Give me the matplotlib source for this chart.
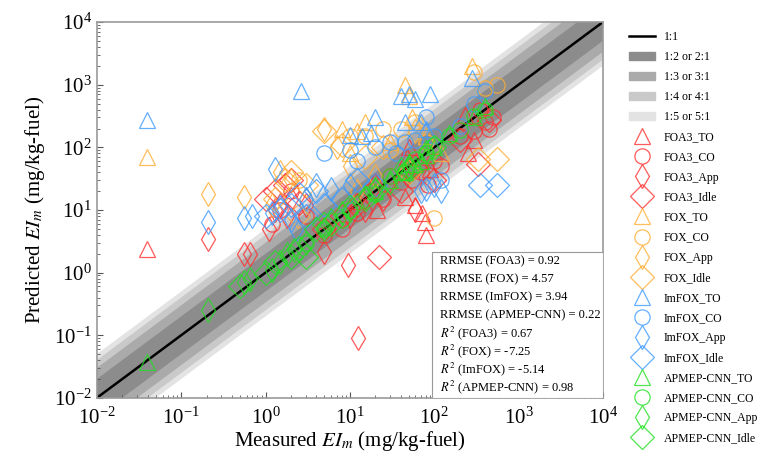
import numpy as np
import matplotlib.pyplot as plt
from matplotlib.patches import Patch, Rectangle
from matplotlib.lines import Line2D

plt.rcParams['font.family'] = ['Liberation Serif', 'DejaVu Serif']
plt.rcParams['mathtext.fontset'] = 'stix'

# (measured, predicted) pairs per model and flight mode
foa3_to = [(0.039, 2.4), (12, 14), (21, 10), (45, 16), (47, 70), (60, 12), (72, 9), (80, 4),
           (78, 6.5), (50, 100), (90, 45), (230, 330), (250, 80), (300, 130)]
foa3_co = [(12, 9), (18, 20), (25, 15), (30, 35), (40, 28), (55, 30), (70, 40), (85, 25), (100, 60),
           (120, 50), (200, 150), (300, 180), (400, 250), (500, 300), (350, 400), (8, 5), (5, 4),
           (1.5, 10), (2, 20), (3, 8), (1.2, 6), (450, 200)]
foa3_app = [(0.21, 3.5), (0.55, 2), (0.65, 2), (5, 2.1), (9.6, 1.3), (12.5, 0.09), (1.1, 5), (1.5, 12),
            (2, 15), (3, 12), (1.8, 8), (1.3, 10), (10, 8), (15, 10), (20, 25), (25, 15), (60, 10)]
foa3_idle = [(22, 1.8), (1, 15), (1.3, 20), (1.7, 25), (2.5, 13), (2, 30), (5, 5), (8, 8), (12, 12),
             (60, 50), (100, 30), (330, 55), (450, 270), (200, 130), (40, 20)]

fox_to = [(0.039, 69), (12, 180), (15, 250), (8, 200), (45, 1000), (50, 650), (280, 2000), (55, 300),
          (80, 150), (120, 80), (30, 120), (10, 80)]
fox_co = [(2.5, 30), (10, 150), (15, 150), (25, 200), (40, 200), (60, 250), (300, 1600), (400, 900),
          (550, 1000), (100, 7.5), (30, 90), (80, 120)]
fox_app = [(0.21, 18), (0.55, 16), (1.5, 40), (2, 30), (5, 200), (7, 100), (10, 50), (12, 20),
           (60, 180), (3, 15), (1.2, 12), (20, 35)]
fox_idle = [(1.3, 15), (2, 40), (3, 25), (5, 180), (15, 70), (330, 65), (550, 65), (1.7, 30),
            (8, 110), (25, 100), (50, 40), (2.4, 8)]

imfox_to = [(0.039, 270), (2.6, 800), (10, 160), (14, 150), (18, 170), (40, 650), (50, 700), (60, 600),
            (80, 200), (280, 1300), (70, 250), (45, 250), (90, 700), (20, 300)]
imfox_co = [(5, 80), (10, 90), (12, 60), (20, 100), (30, 120), (45, 120), (60, 130), (80, 300),
            (100, 150), (300, 500), (400, 800), (35, 80), (120, 30), (200, 220)]
imfox_app = [(0.21, 6.5), (0.55, 7.4), (0.7, 8), (1.2, 9), (1.5, 11), (2, 7), (3, 15), (4, 25), (6, 22),
             (10, 25), (70, 20), (80, 22), (100, 25), (120, 20), (1.3, 45), (2.3, 5)]
imfox_idle = [(1.5, 10), (2, 12), (2.5, 18), (3, 8), (5, 12), (8, 15), (12, 30), (20, 25), (350, 25),
              (550, 25), (1, 8), (4, 20)]

cnn_to = [(0.039, 0.037), (20, 20), (30, 30), (40, 40), (50, 55), (60, 55), (80, 75), (100, 100),
          (150, 170), (300, 300), (400, 450), (70, 60), (45, 40)]
cnn_co = [(10, 10), (20, 18), (30, 35), (45, 40), (60, 65), (80, 80), (100, 110), (150, 150),
          (200, 190), (300, 320), (400, 400), (8, 7), (5, 5), (3, 3)]
cnn_app = [(0.21, 0.25), (0.55, 0.7), (0.65, 0.8), (1.2, 1.1), (1.5, 1.5), (1.8, 2), (2.2, 2.3), (3, 3),
           (5, 5), (6, 7), (8, 9), (10, 10), (15, 16), (20, 22), (30, 28), (40, 45), (50, 50), (80, 85)]
cnn_idle = [(1, 1), (1.3, 1.5), (2, 1.8), (2.5, 2.5), (3, 1.8), (4, 5), (5, 6), (6, 6), (10, 11),
            (15, 15), (20, 20), (50, 45), (100, 100), (0.5, 0.6)]

models = ['FOA3', 'FOX', 'ImFOX', 'APMEP-CNN']
modes = ['TO', 'CO', 'App', 'Idle']
data = {
    'FOA3': [foa3_to, foa3_co, foa3_app, foa3_idle],
    'FOX': [fox_to, fox_co, fox_app, fox_idle],
    'ImFOX': [imfox_to, imfox_co, imfox_app, imfox_idle],
    'APMEP-CNN': [cnn_to, cnn_co, cnn_app, cnn_idle],
}
colors = {'FOA3': '#ff3030', 'FOX': '#ffad33', 'ImFOX': '#3d9bff', 'APMEP-CNN': '#22e022'}
markers = {'TO': ('^', 11), 'CO': ('o', 11), 'App': ('d', 12), 'Idle': ('D', 12)}

ratios = [5, 4, 3, 2]
band_colors = ['#e3e3e3', '#c9c9c9', '#aaaaaa', '#8c8c8c']
stats = ['RRMSE (FOA3) = 0.92', 'RRMSE (FOX) = 4.57', 'RRMSE (ImFOX) = 3.94',
         'RRMSE (APMEP-CNN) = 0.22', '$R^2$ (FOA3) = 0.67', '$R^2$ (FOX) = -7.25',
         '$R^2$ (ImFOX) = -5.14', '$R^2$ (APMEP-CNN) = 0.98']

fig = plt.figure(figsize=(7.63, 4.61), dpi=100)
ax = fig.add_axes([0.127, 0.137, 0.663, 0.815])

x = np.logspace(-3, 5, 200)
for r, c in zip(ratios, band_colors):
    ax.fill_between(x, x / r, x * r, color=c, lw=0, zorder=1)
ax.plot(x, x, color='k', lw=1.8, zorder=2)

for m in models:
    for mode, pts in zip(modes, data[m]):
        pts = np.array(pts)
        mk, ms = markers[mode]
        ax.plot(pts[:, 0], pts[:, 1], ls='none', marker=mk, ms=ms, mfc='none',
                mec=colors[m], mew=0.9, alpha=0.8, zorder=3)

ax.set_xscale('log')
ax.set_yscale('log')
ax.set_xlim(1e-2, 1e4)
ax.set_ylim(1e-2, 1e4)
ax.set_xlabel('Measured $EI_m$ (mg/kg-fuel)', fontsize=15, labelpad=0)
ax.set_ylabel('Predicted $EI_m$ (mg/kg-fuel)', fontsize=15, labelpad=5)
ax.tick_params(which='both', direction='in', labelsize=15, color='#555555')
ax.tick_params(axis='x', which='major', pad=7)
ax.tick_params(which='major', length=4)
ax.tick_params(which='minor', length=2)
for s in ax.spines.values():
    s.set_color('#999999')
    s.set_linewidth(1.2)

# stats box in the lower right corner
ax.add_patch(Rectangle((0.662, 0.0), 0.338, 0.388, transform=ax.transAxes, fc='white',
                       ec='#999999', lw=0.8, zorder=5))
for i, s in enumerate(stats):
    ax.text(0.678, 0.363 - i * 0.0478, s, transform=ax.transAxes, ha='left', va='center',
            fontsize=9, zorder=6)

handles = [Line2D([], [], color='k', lw=1.8)]
labels = ['1:1']
for r, c in zip([2, 3, 4, 5], band_colors[::-1]):
    handles.append(Patch(color=c))
    labels.append(f'1:{r} or {r}:1')
for m in models:
    for mode in modes:
        mk, ms = markers[mode]
        handles.append(Line2D([], [], ls='none', marker=mk, ms=ms, mfc='none',
                              mec=colors[m], mew=0.9, alpha=0.8))
        labels.append(f'{m}_{mode}')
fig.legend(handles, labels, loc='upper left', bbox_to_anchor=(0.81, 0.955), frameon=False,
           fontsize=8.5, handlelength=2.2, labelspacing=0.68, handletextpad=0.8)

fig.savefig('out.png', dpi=100)
